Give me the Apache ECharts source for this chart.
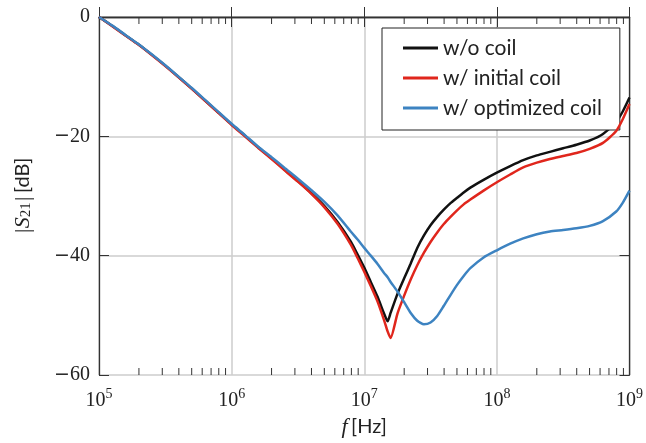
<!DOCTYPE html>
<html>
<head>
<meta charset="utf-8">
<script src="https://cdn.jsdelivr.net/npm/echarts@6/dist/echarts.min.js"></script>
<style>
  html, body { margin: 0; padding: 0; background: #fff; }
  #main { width: 646px; height: 443px; }
</style>
</head>
<body>
<div id="main"></div>
<script>
// frequency points (Hz) shared by all three curves
const freqs = [
  1e5, 1.26e5, 1.58e5, 2.0e5, 2.51e5, 3.16e5, 3.98e5, 5.01e5, 6.31e5, 7.94e5,
  1e6, 1.26e6, 1.58e6, 2.0e6, 2.51e6, 3.16e6, 3.98e6, 5.01e6, 6.31e6, 7.94e6,
  8.91e6, 1e7, 1.12e7, 1.26e7, 1.41e7, 1.50e7, 1.58e7, 1.78e7, 2.0e7, 2.24e7,
  2.51e7, 2.82e7, 3.16e7, 3.55e7, 3.98e7, 4.47e7, 5.01e7, 5.62e7, 6.31e7,
  7.94e7, 1e8, 1.26e8, 1.58e8, 2.0e8, 2.51e8, 3.16e8, 3.98e8, 5.01e8, 6.31e8, 7.94e8,
  8.91e8, 1e9
];
// |S21| in dB
const noCoil = [
  0, -1.5, -3.05, -4.65, -6.35, -8.15, -10.05, -12.0, -14.0, -16.0,
  -18.0, -19.9, -21.8, -23.7, -25.6, -27.5, -29.5, -31.7, -34.4, -37.7,
  -39.8, -42.0, -44.4, -46.9, -49.7, -51.0, -49.6, -46.4, -43.8, -41.3,
  -38.7, -36.6, -34.9, -33.5, -32.3, -31.2, -30.3, -29.4, -28.6,
  -27.3, -26.1, -25.0, -24.0, -23.2, -22.6, -22.0, -21.4, -20.7, -19.6, -17.6,
  -15.8, -13.5
];
const initialCoil = [
  0, -1.55, -3.1, -4.7, -6.4, -8.2, -10.1, -12.05, -14.05, -16.05,
  -18.1, -20.0, -21.9, -23.8, -25.7, -27.6, -29.6, -31.9, -34.7, -38.2,
  -40.4, -42.7, -45.1, -47.7, -50.8, -52.7, -53.8, -49.7, -46.7, -44.0,
  -41.6, -39.5, -37.7, -36.1, -34.7, -33.5, -32.4, -31.4, -30.6,
  -29.1, -27.7, -26.4, -25.2, -24.4, -23.8, -23.3, -22.8, -22.1, -21.1, -19.1,
  -17.1, -14.6
];
const optimizedCoil = [
  0, -1.45, -3.0, -4.6, -6.3, -8.1, -10.0, -11.9, -13.9, -15.9,
  -17.9, -19.8, -21.7, -23.5, -25.3, -27.1, -29.0, -31.0, -33.3, -36.0,
  -37.3, -38.7, -40.0, -41.4, -42.9, -43.6, -44.4, -46.0, -47.8, -49.6,
  -50.9, -51.5, -51.2, -50.1, -48.4, -46.6, -44.9, -43.4, -42.1,
  -40.3, -39.1, -38.0, -37.1, -36.4, -35.95, -35.7, -35.4, -35.0, -34.2, -32.6,
  -31.1, -29.1
];
const seriesNames = ["w/o coil", "w/ initial coil", "w/ optimized coil"];
const seriesColors = ["#111111", "#e0261c", "#3d83c1"];
const yTicks = [-60, -40, -20, 0];
const minorTickFreqs = [];
[1e5, 1e6, 1e7, 1e8].forEach(function (d) {
  for (let k = 2; k <= 9; k++) minorTickFreqs.push(d * k);
});

const chart = echarts.init(document.getElementById("main"), null, { renderer: "canvas" });

const toPairs = (vals) => freqs.map((f, i) => [f, vals[i]]);
const frameColor = "#333";
const gridColor = "#cccccc";
const serif = "'Liberation Serif', 'DejaVu Serif', serif";
const sans = "Lato, 'Noto Sans', sans-serif";

const lineSeries = [noCoil, initialCoil, optimizedCoil].map(function (vals, i) {
  return {
    name: seriesNames[i],
    type: "line",
    data: toPairs(vals),
    showSymbol: false,
    smooth: 0.2,
    lineStyle: { width: 2.5, color: seriesColors[i] },
    itemStyle: { color: seriesColors[i] },
    z: 3 + i
  };
});

const option = {
  animation: false,
  backgroundColor: "#fff",
  grid: { left: 99, right: 15, top: 17, bottom: 65 },
  legend: {
    data: seriesNames,
    orient: "vertical",
    left: 382,
    top: 28,
    padding: [9, 18, 11, 21],
    itemGap: 8,
    itemWidth: 35,
    itemHeight: 3,
    icon: "rect",
    backgroundColor: "#fff",
    borderColor: "#222",
    borderWidth: 1,
    borderRadius: 0,
    textStyle: { fontFamily: sans, fontSize: 21, color: "#222", lineHeight: 22 }
  },
  xAxis: [
    {
      type: "log",
      logBase: 10,
      min: 1e5,
      max: 1e9,
      splitNumber: 4,
      position: "bottom",
      name: "{i|f} {n|[Hz]}",
      nameLocation: "middle",
      nameGap: 41,
      nameTextStyle: {
        rich: {
          i: { fontFamily: serif, fontStyle: "italic", fontSize: 22, color: "#222" },
          n: { fontFamily: sans, fontSize: 20, color: "#222" }
        }
      },
      axisLine: { show: true, lineStyle: { color: frameColor, width: 1.3 } },
      axisTick: { show: true, inside: true, length: 10, lineStyle: { color: frameColor } },
      splitLine: { show: true, lineStyle: { color: gridColor, width: 1.5 } },
      axisLabel: {
        margin: 12,
        formatter: function (v) {
          return "{b|10}{e|" + Math.round(Math.log10(v)) + "}";
        },
        rich: {
          b: { fontFamily: serif, fontSize: 20, color: "#222", lineHeight: 24, verticalAlign: "bottom" },
          e: { fontFamily: serif, fontSize: 14, color: "#222", lineHeight: 14, verticalAlign: "top" }
        }
      }
    },
    {
      type: "log",
      logBase: 10,
      min: 1e5,
      max: 1e9,
      splitNumber: 4,
      position: "top",
      axisLine: { show: true, lineStyle: { color: frameColor, width: 1.3 } },
      axisTick: { show: true, inside: true, length: 10, lineStyle: { color: frameColor } },
      axisLabel: { show: false },
      splitLine: { show: false }
    }
  ],
  yAxis: [
    {
      type: "value",
      min: yTicks[0],
      max: yTicks[yTicks.length - 1],
      interval: 20,
      position: "left",
      name: "{m|\u007CS}{s|21}{m|\u007C} {n|[dB]}",
      nameLocation: "middle",
      nameGap: 65,
      nameRotate: 90,
      nameTextStyle: {
        rich: {
          m: { fontFamily: serif, fontStyle: "italic", fontSize: 22, color: "#222" },
          s: { fontFamily: serif, fontSize: 15, color: "#222", verticalAlign: "bottom", lineHeight: 10 },
          n: { fontFamily: sans, fontSize: 20, color: "#222" }
        }
      },
      axisLine: { show: true, lineStyle: { color: frameColor, width: 1.3 } },
      axisTick: { show: true, inside: true, length: 10, lineStyle: { color: frameColor } },
      splitLine: { show: true, lineStyle: { color: gridColor, width: 1.5 } },
      axisLabel: {
        margin: 9,
        formatter: function (v) {
          return v < 0 ? "{mi|\u2212}{d|" + Math.abs(v) + "}" : "{d|" + v + "}";
        },
        rich: {
          mi: { fontFamily: "'DejaVu Serif', serif", fontSize: 19, color: "#222" },
          d: { fontFamily: serif, fontSize: 20, color: "#222" }
        }
      }
    },
    {
      type: "value",
      min: yTicks[0],
      max: yTicks[yTicks.length - 1],
      interval: 20,
      position: "right",
      axisLine: { show: true, lineStyle: { color: frameColor, width: 1.3 } },
      axisTick: { show: true, inside: true, length: 10, lineStyle: { color: frameColor } },
      axisLabel: { show: false },
      splitLine: { show: false }
    }
  ],
  series: lineSeries.concat([
    {
      // minor log ticks on bottom and top edges
      type: "custom",
      silent: true,
      z: 10,
      clip: false,
      data: minorTickFreqs.map(function (f) { return [f, 0]; }),
      encode: { x: 0, y: 1 },
      renderItem: function (params, api) {
        const f = api.value(0);
        const b = api.coord([f, yTicks[0]]);
        const t = api.coord([f, yTicks[yTicks.length - 1]]);
        const st = { stroke: frameColor, lineWidth: 1 };
        return {
          type: "group",
          children: [
            { type: "line", shape: { x1: b[0], y1: b[1], x2: b[0], y2: b[1] - 7 }, style: st },
            { type: "line", shape: { x1: t[0], y1: t[1], x2: t[0], y2: t[1] + 7 }, style: st }
          ]
        };
      }
    }
  ])
};

chart.setOption(option);
</script>
</body>
</html>
